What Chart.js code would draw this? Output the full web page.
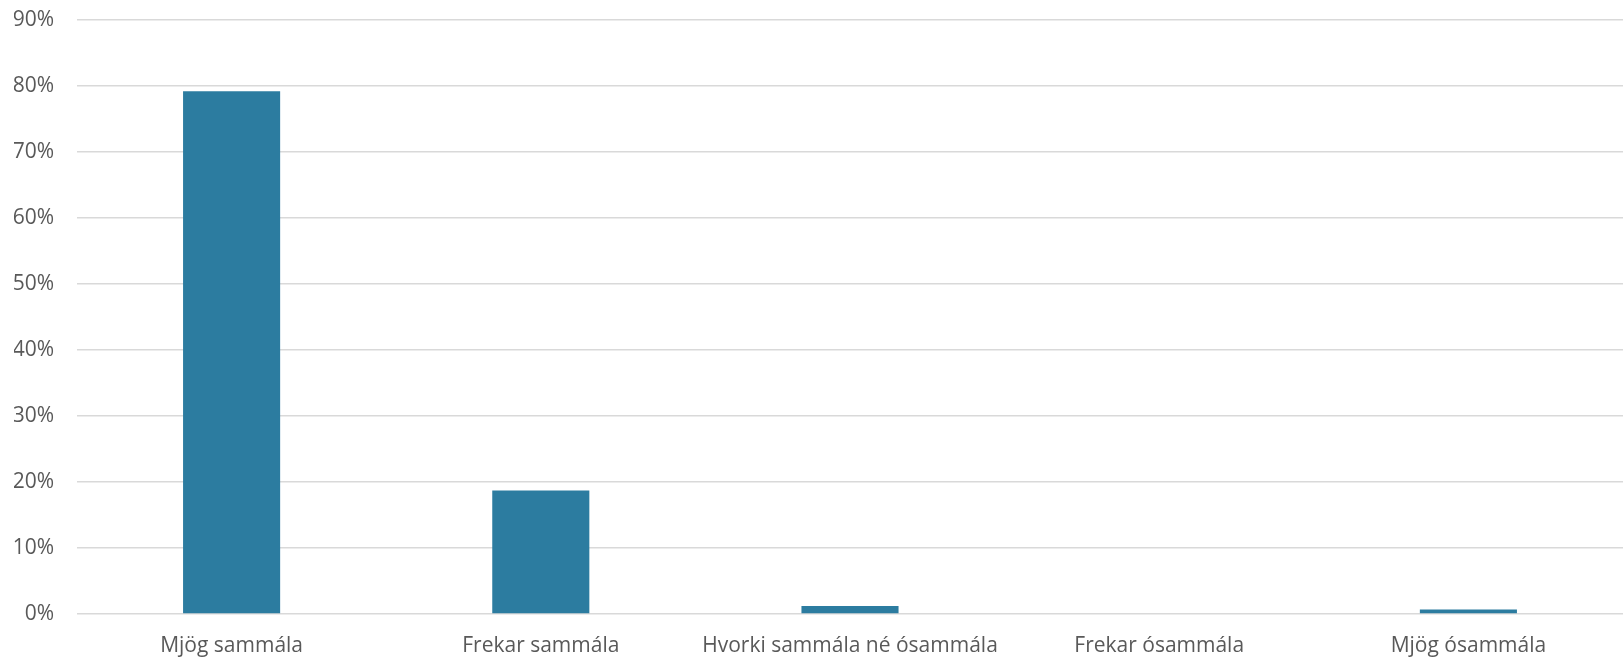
<!DOCTYPE html>
<html>
<head>
<meta charset="utf-8">
<script src="https://cdn.jsdelivr.net/npm/chart.js@4"></script>
<style>
    html, body { margin: 0; padding: 0; background: #ffffff; }
    #wrap { width: 1623px; height: 658px; }
</style>
</head>
<body>
<div id="wrap"><canvas id="grafica" width="1623" height="658"></canvas></div>
<script>
// Datos
const categorias = ['Mjög sammála', 'Frekar sammála', 'Hvorki sammála né ósammála', 'Frekar ósammála', 'Mjög ósammála'];
const valores = [79.2, 18.7, 1.2, 0, 0.7];
const ticksY = [0, 10, 20, 30, 40, 50, 60, 70, 80, 90];

document.addEventListener('DOMContentLoaded', function() {
    const colores = {
        barra: '#2c7ca0',
        texto: '#595959',
        rejilla: '#d9d9d9'
    };

    const fuente = { family: 'Open Sans', size: 21 };

    const ctx = document.getElementById('grafica').getContext('2d');
    new Chart(ctx, {
        type: 'bar',
        data: {
            labels: categorias,
            datasets: [{
                data: valores,
                backgroundColor: colores.barra,
                borderWidth: 0,
                categoryPercentage: 1,
                barPercentage: 0.314
            }]
        },
        options: {
            responsive: false,
            animation: false,
            layout: {
                padding: { top: 20, right: 0, bottom: 0, left: 14 }
            },
            plugins: {
                legend: { display: false },
                tooltip: { enabled: false }
            },
            scales: {
                x: {
                    grid: { display: false, drawTicks: false },
                    border: { display: false },
                    ticks: {
                        color: colores.texto,
                        font: fuente,
                        padding: 19,
                        maxRotation: 0,
                        autoSkip: false
                    },
                    afterFit: function(scale) {
                        scale.height = 44;
                        scale.paddingLeft = 0;
                        scale.paddingRight = 0;
                    }
                },
                y: {
                    min: ticksY[0],
                    max: ticksY[ticksY.length - 1],
                    afterBuildTicks: function(axis) {
                        axis.ticks = ticksY.map(v => ({ value: v }));
                    },
                    grid: {
                        color: colores.rejilla,
                        lineWidth: 1.5,
                        drawTicks: false
                    },
                    border: { display: false },
                    ticks: {
                        color: colores.texto,
                        font: fuente,
                        padding: 23,
                        callback: function(v) { return v + '%'; }
                    },
                    afterFit: function(scale) {
                        scale.width = 63;
                        scale.paddingTop = 0;
                        scale.paddingBottom = 0;
                    }
                }
            }
        }
    });
});
</script>
</body>
</html>
